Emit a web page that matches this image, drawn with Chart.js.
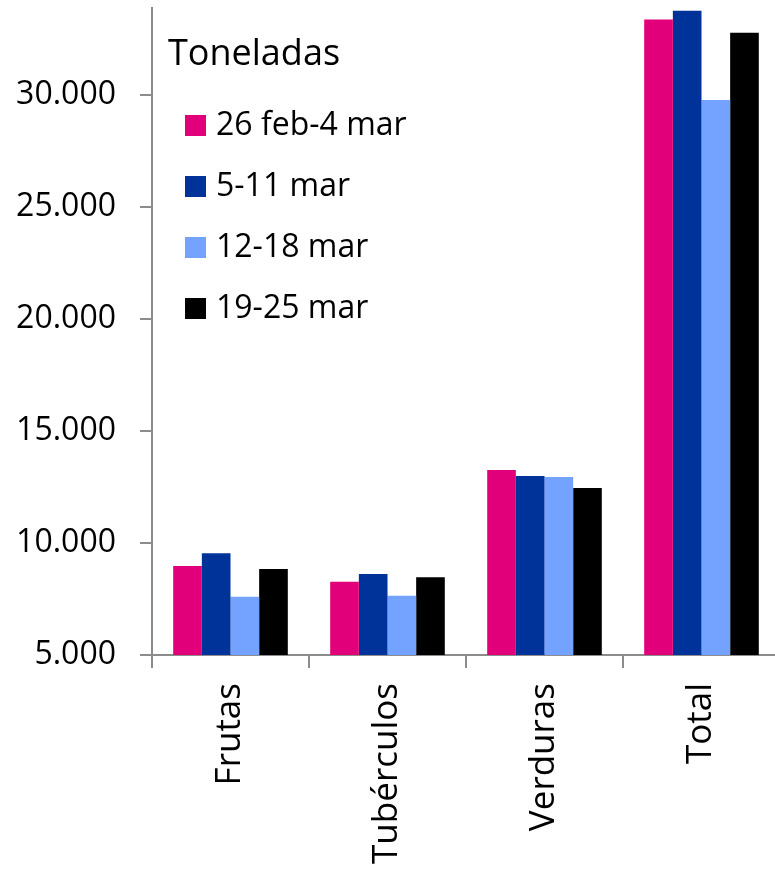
<!DOCTYPE html>
<html>
<head>
<meta charset="utf-8">
<script src="https://cdn.jsdelivr.net/npm/chart.js@4/dist/chart.umd.min.js"></script>
<style>
  html, body { margin: 0; padding: 0; background: #fff; overflow: hidden; }
  #chart { display: block; }
</style>
</head>
<body>
<canvas id="chart" width="790" height="873"></canvas>
<script>
// categories and weekly tonnage
var categories = ['Frutas', 'Tubérculos', 'Verduras', 'Total'];
var seriesLabels = ['26 feb-4 mar', '5-11 mar', '12-18 mar', '19-25 mar'];
var week1 = [8970, 8270, 13260, 33390];
var week2 = [9550, 8620, 12990, 33780];
var week3 = [7600, 7650, 12950, 29790];
var week4 = [8840, 8470, 12460, 32800];
var yTicks = [5000, 10000, 15000, 20000, 25000, 30000];
var legendTitle = 'Toneladas';

var colors = ['#e2007a', '#00339a', '#74a2ff', '#000000'];
var axisColor = '#8c8c8c';

Chart.defaults.font.family = '"Open Sans", sans-serif';
Chart.defaults.color = '#000';

function fmt(v) {
    return String(v).replace(/\B(?=(\d{3})+(?!\d))/g, '.');
}

function noPadding(scale) {
    scale.paddingTop = 0;
    scale.paddingBottom = 0;
    scale.paddingLeft = 0;
    scale.paddingRight = 0;
}

// legend drawn inside the plot area, stacked vertically
var insideLegend = {
    id: 'insideLegend',
    afterDraw: function(chart) {
        var ctx = chart.ctx;
        var area = chart.chartArea;
        ctx.save();
        ctx.fillStyle = '#000';
        ctx.textAlign = 'left';
        ctx.textBaseline = 'alphabetic';
        ctx.font = '36px "Open Sans"';
        ctx.fillText(legendTitle, area.left + 16, area.top + 57);
        ctx.font = '32px "Open Sans"';
        ctx.textBaseline = 'middle';
        chart.data.datasets.forEach(function(ds, i) {
            var cy = area.top + 117.5 + i * 61;
            ctx.fillStyle = ds.backgroundColor;
            ctx.fillRect(area.left + 33, cy - 10.5, 21, 21);
            ctx.fillStyle = '#000';
            ctx.fillText(ds.label, area.left + 64, cy);
        });
        ctx.restore();
    }
};

var allSeries = [week1, week2, week3, week4];

new Chart(document.getElementById('chart'), {
    type: 'bar',
    data: {
        labels: categories,
        datasets: allSeries.map(function(vals, i) {
            return {
                label: seriesLabels[i],
                data: vals,
                backgroundColor: colors[i],
                borderWidth: 0,
                categoryPercentage: 0.73,
                barPercentage: 1.0
            };
        })
    },
    options: {
        responsive: false,
        animation: false,
        layout: { padding: { top: 8, right: 10, left: 0, bottom: 0 } },
        plugins: {
            legend: { display: false },
            tooltip: { enabled: false }
        },
        scales: {
            x: {
                afterFit: function(scale) { scale.height = 218; noPadding(scale); },
                border: { color: axisColor, width: 2 },
                grid: {
                    drawOnChartArea: false,
                    drawTicks: true,
                    tickLength: 13,
                    color: axisColor,
                    lineWidth: 2
                },
                ticks: {
                    maxRotation: 90,
                    minRotation: 90,
                    padding: 15,
                    font: { size: 35 }
                }
            },
            y: {
                min: 5000,
                max: 33900,
                afterFit: function(scale) { scale.width = 152; noPadding(scale); },
                afterBuildTicks: function(scale) {
                    scale.ticks = yTicks.map(function(v) { return { value: v }; });
                },
                border: { color: axisColor, width: 2 },
                grid: {
                    drawOnChartArea: false,
                    drawTicks: true,
                    tickLength: 12,
                    color: axisColor,
                    lineWidth: 2
                },
                ticks: {
                    padding: 24,
                    font: { size: 32 },
                    callback: function(v) { return fmt(v); }
                }
            }
        }
    },
    plugins: [insideLegend]
});
</script>
</body>
</html>
